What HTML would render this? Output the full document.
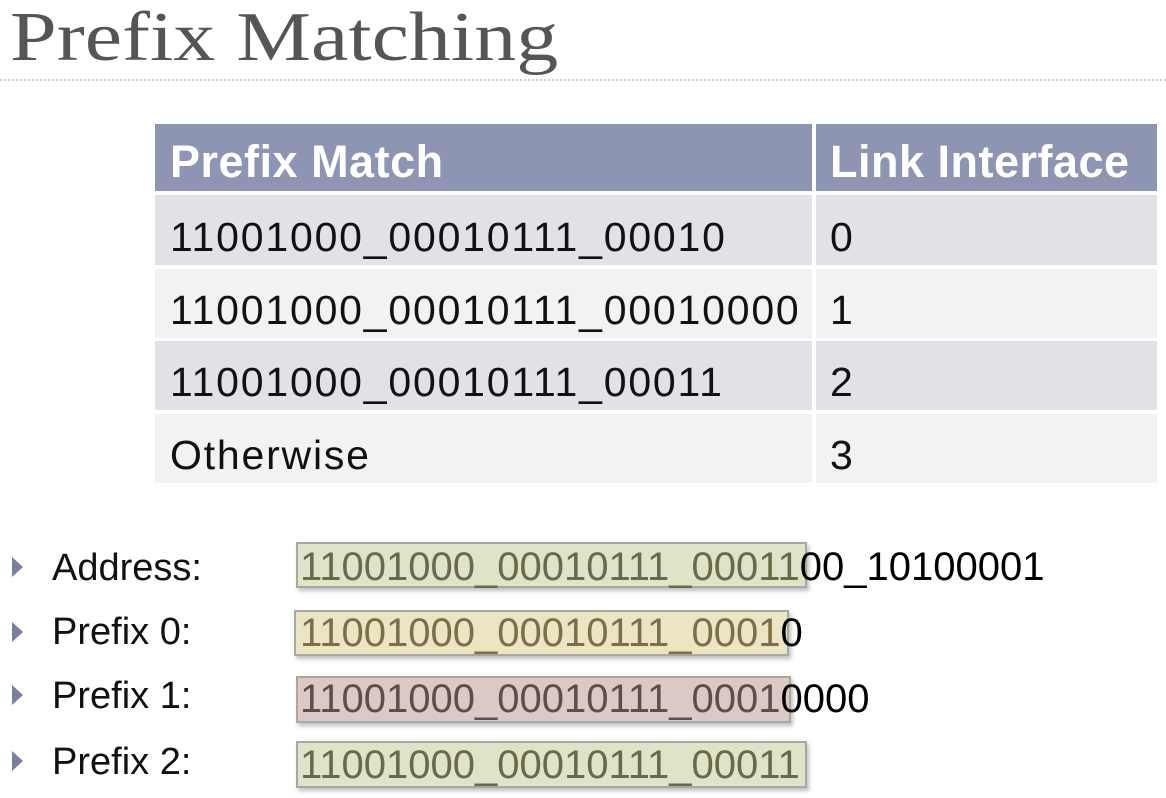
<!DOCTYPE html>
<html><head><meta charset="utf-8"><style>
body{margin:0;width:1166px;height:798px;background:#fff;position:relative;overflow:hidden;font-family:"Liberation Sans",sans-serif}
.a{position:absolute;white-space:nowrap}
.title{left:10px;top:-2px;font-family:"Liberation Serif",serif;font-size:70px;color:#555;transform:scaleX(1.2);transform-origin:0 0}
.dash{left:0;top:79px;width:1166px;border-top:2px dotted #ccc}
.cell{position:absolute;}
.t{font-size:41px;color:#111;letter-spacing:1.8px;line-height:1}
.hd{font-size:45px;color:#fff;font-weight:bold;line-height:1;letter-spacing:0.5px}
.lab{font-size:38px;color:#111;line-height:1}
.tri{position:absolute;width:0;height:0;border-left:11px solid #7a7fa0;border-top:10px solid transparent;border-bottom:10px solid transparent}
.box{position:absolute;border:2px solid #a8a8a0;box-shadow:2px 3px 4px rgba(0,0,0,.25)}
.bt{font-size:40px;line-height:1;letter-spacing:0px}
</style></head><body>
<div class="a title">Prefix Matching</div>
<div class="a dash"></div>

<div class="cell" style="left:155px;top:124px;width:657px;height:67px;background:#8d95b3"></div>
<div class="cell" style="left:816px;top:124px;width:341px;height:67px;background:#8d95b3"></div>
<div class="cell" style="left:155px;top:195px;width:657px;height:70px;background:#e0e2e8"></div>
<div class="cell" style="left:816px;top:195px;width:341px;height:70px;background:#e0e2e8"></div>
<div class="cell" style="left:155px;top:269px;width:657px;height:69px;background:#f1f2f4"></div>
<div class="cell" style="left:816px;top:269px;width:341px;height:69px;background:#f1f2f4"></div>
<div class="cell" style="left:155px;top:341px;width:657px;height:69px;background:#e0e2e8"></div>
<div class="cell" style="left:816px;top:341px;width:341px;height:69px;background:#e0e2e8"></div>
<div class="cell" style="left:155px;top:414px;width:657px;height:69px;background:#f1f2f4"></div>
<div class="cell" style="left:816px;top:414px;width:341px;height:69px;background:#f1f2f4"></div>

<div class="a hd" style="left:170px;top:139px">Prefix Match</div>
<div class="a hd" style="left:830px;top:139px">Link Interface</div>
<div class="a t" style="left:170px;top:217px">11001000_00010111_00010</div>
<div class="a t" style="left:830px;top:217px">0</div>
<div class="a t" style="left:170px;top:290px">11001000_00010111_00010000</div>
<div class="a t" style="left:830px;top:290px">1</div>
<div class="a t" style="left:170px;top:362px">11001000_00010111_00011</div>
<div class="a t" style="left:830px;top:362px">2</div>
<div class="a t" style="left:170px;top:435px">Otherwise</div>
<div class="a t" style="left:830px;top:435px">3</div>

<div class="tri" style="left:12px;top:557px"></div>
<div class="tri" style="left:12px;top:622px"></div>
<div class="tri" style="left:12px;top:685px"></div>
<div class="tri" style="left:12px;top:751px"></div>
<div class="a lab" style="left:52px;top:549px">Address:</div>
<div class="a lab" style="left:52px;top:613px">Prefix 0:</div>
<div class="a lab" style="left:52px;top:677px">Prefix 1:</div>
<div class="a lab" style="left:52px;top:743px">Prefix 2:</div>

<div class="box" style="left:296px;top:542px;width:507px;height:42px;background:#dfe3c8"></div>
<div class="box" style="left:294px;top:610px;width:491px;height:42px;background:#ece5c4"></div>
<div class="box" style="left:296px;top:676px;width:491px;height:43px;background:#dcc9c6"></div>
<div class="box" style="left:296px;top:741px;width:507px;height:43px;background:#dfe3c8"></div>

<div class="a bt" style="left:300px;top:547px"><span style="color:#6a6a48">11001000_00010111_00011</span><span style="color:#000">00_10100001</span></div>
<div class="a bt" style="left:300px;top:613px"><span style="color:#7a7048">11001000_00010111_0001</span><span style="color:#000">0</span></div>
<div class="a bt" style="left:300px;top:679px"><span style="color:#5e4e4a">11001000_00010111_0001</span><span style="color:#000">0000</span></div>
<div class="a bt" style="left:300px;top:745px"><span style="color:#6a6a48">11001000_00010111_00011</span></div>
</body></html>
